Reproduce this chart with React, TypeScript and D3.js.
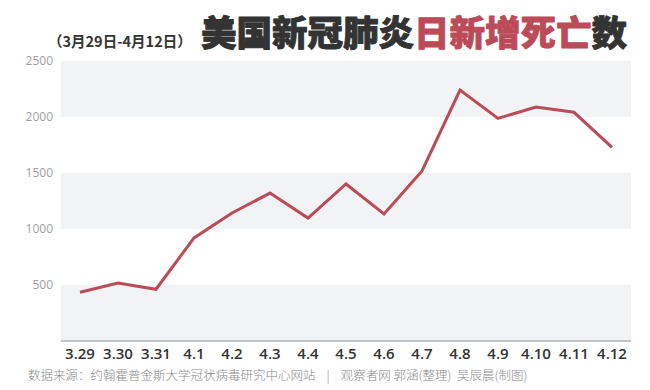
import React from "react";
import * as d3 from "d3";

const categories = ["3.29","3.30","3.31","4.1","4.2","4.3","4.4","4.5","4.6","4.7","4.8","4.9","4.10","4.11","4.12"];
const deaths = [435, 518, 462, 920, 1143, 1321, 1098, 1402, 1134, 1518, 2241, 1988, 2089, 2042, 1729];
const yTicks = [500, 1000, 1500, 2000, 2500];
const bands = [[0, 500], [1000, 1500], [2000, 2500]];
const subtitle = "（3月29日-4月12日）";
const titleDark = "美国新冠肺炎";
const titleRed = "日新增死亡";
const titleEnd = "数";
const source = "数据来源：约翰霍普金斯大学冠状病毒研究中心网站    |    观察者网 郭涵(整理)  吴辰晨(制图)";

const W = 650, H = 390;
const left = 61, right = 631, top = 61, bottom = 341;
const RED = "#bb4b58";
const DARK = "#333";
const CJK = "'Noto Sans CJK SC', 'Noto Sans', sans-serif";

export default function App() {
  const x = d3.scaleBand<string>().domain(categories).range([left, right]);
  const y = d3.scaleLinear().domain([0, 2500]).range([bottom, top]);
  const line = d3.line<number>()
    .x((_, i) => (x(categories[i]) as number) + x.bandwidth() / 2)
    .y((d) => y(d));
  return (
    <svg width={W} height={H} style={{ position: "absolute", left: 0, top: 0, background: "#fff" }}>
      {bands.map(([a, b], i) => (
        <rect key={i} x={left} y={y(b)} width={right - left} height={y(a) - y(b)} fill="#f2f3f5" />
      ))}
      {yTicks.map((t) => (
        <text key={t} x={53} y={y(t)} dy="0.35em" textAnchor="end" fontSize={12} fill="#a0a0a0" fontFamily="'Open Sans', sans-serif">{t}</text>
      ))}
      <line x1={left} x2={right} y1={bottom} y2={bottom} stroke="#b0b0b0" strokeWidth={1.5} />
      {categories.map((c) => (
        <text key={c} x={(x(c) as number) + x.bandwidth() / 2} y={354} dy="0.35em" textAnchor="middle" fontSize={15} fontWeight={600} fill="#333" fontFamily="'Open Sans', sans-serif">{c}</text>
      ))}
      <path d={line(deaths) || ""} fill="none" stroke={RED} strokeWidth={3} strokeLinejoin="miter" />
      <text x={48} y={47} fontSize={14.5} fontWeight={700} fill="#333" fontFamily={CJK}>{subtitle}</text>
      <text x={201} y={46} fontSize={35.5} fontWeight={900} fontFamily={CJK} strokeWidth={0.9} strokeLinejoin="round">
        <tspan fill={DARK} stroke={DARK}>{titleDark}</tspan>
        <tspan fill={RED} stroke={RED}>{titleRed}</tspan>
        <tspan fill={DARK} stroke={DARK}>{titleEnd}</tspan>
      </text>
      <text x={28} y={376} dy="0.35em" fontSize={12.5} fill="#8a8a8a" fontFamily={CJK} fontWeight={300} style={{ whiteSpace: "pre" }}>{source}</text>
    </svg>
  );
}
